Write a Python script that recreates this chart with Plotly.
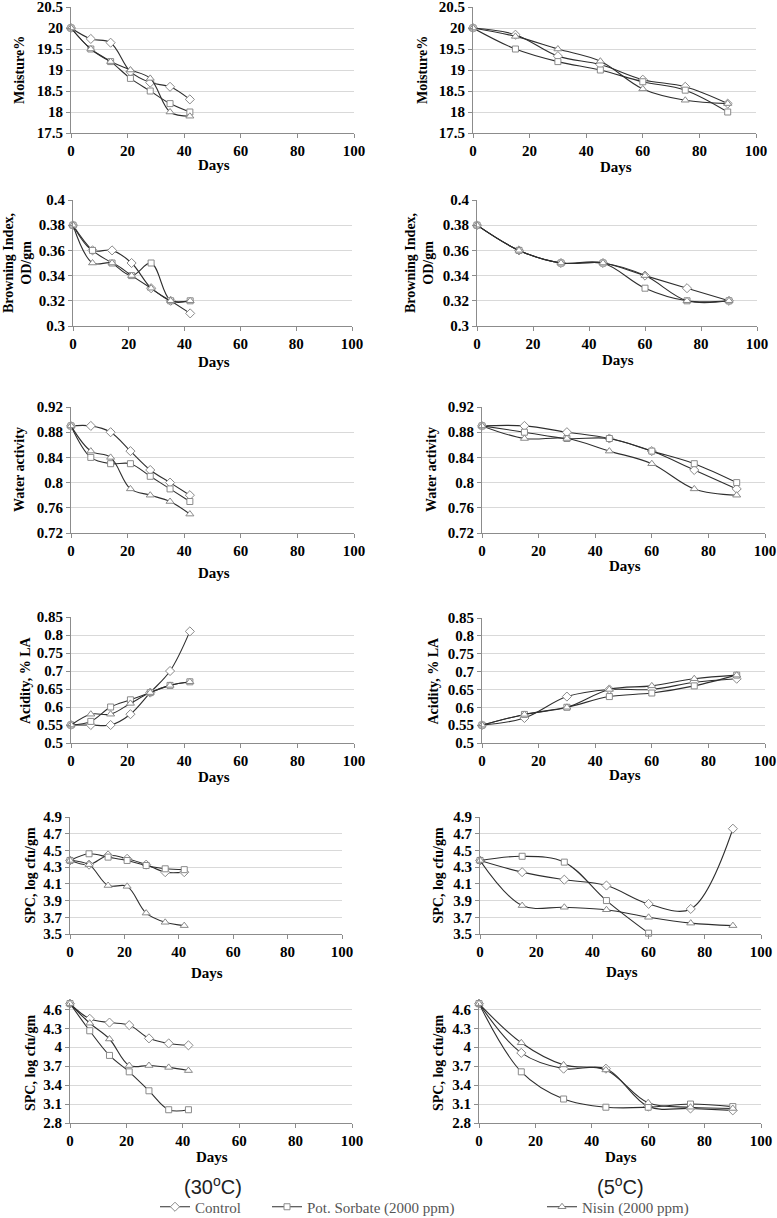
import plotly.graph_objects as go

W, H = 777, 1218

# storage days
days_30 = [0, 7, 14, 21, 28, 35, 42]
days_5 = [0, 15, 30, 45, 60, 75, 90]

series_names = ["Control", "Pot. Sorbate (2000 ppm)", "Nisin (2000 ppm)"]
symbols = ["diamond", "square", "triangle-up"]

# moisture %
moist_30_control = [20.0, 19.74, 19.65, 18.96, 18.7, 18.6, 18.3]
moist_30_sorbate = [20.0, 19.5, 19.2, 18.8, 18.5, 18.2, 18.0]
moist_30_nisin = [20.0, 19.5, 19.2, 19.0, 18.8, 18.0, 17.9]
moist_5_control = [20.0, 19.84, 19.33, 19.13, 18.77, 18.6, 18.2]
moist_5_sorbate = [20.0, 19.5, 19.2, 19.0, 18.72, 18.52, 18.0]
moist_5_nisin = [20.0, 19.8, 19.5, 19.21, 18.55, 18.28, 18.2]

# browning index
brown_30_control = [0.38, 0.36, 0.36, 0.35, 0.33, 0.32, 0.31]
brown_30_sorbate = [0.38, 0.36, 0.35, 0.34, 0.35, 0.32, 0.32]
brown_30_nisin = [0.38, 0.35, 0.35, 0.34, 0.33, 0.32, 0.32]
brown_5_control = [0.38, 0.36, 0.35, 0.35, 0.34, 0.33, 0.32]
brown_5_sorbate = [0.38, 0.36, 0.35, 0.35, 0.33, 0.32, 0.32]
brown_5_nisin = [0.38, 0.36, 0.35, 0.35, 0.34, 0.32, 0.32]

# water activity
aw_30_control = [0.89, 0.89, 0.88, 0.85, 0.82, 0.80, 0.78]
aw_30_sorbate = [0.89, 0.84, 0.83, 0.83, 0.81, 0.79, 0.77]
aw_30_nisin = [0.89, 0.85, 0.84, 0.79, 0.78, 0.77, 0.75]
aw_5_control = [0.89, 0.89, 0.88, 0.87, 0.85, 0.82, 0.79]
aw_5_sorbate = [0.89, 0.88, 0.87, 0.87, 0.85, 0.83, 0.80]
aw_5_nisin = [0.89, 0.87, 0.87, 0.85, 0.83, 0.79, 0.78]

# acidity, % LA
acid_30_control = [0.55, 0.55, 0.55, 0.58, 0.64, 0.70, 0.81]
acid_30_sorbate = [0.55, 0.56, 0.60, 0.62, 0.64, 0.66, 0.67]
acid_30_nisin = [0.55, 0.58, 0.58, 0.61, 0.64, 0.66, 0.67]
acid_5_control = [0.55, 0.57, 0.63, 0.65, 0.65, 0.67, 0.68]
acid_5_sorbate = [0.55, 0.58, 0.60, 0.63, 0.64, 0.66, 0.69]
acid_5_nisin = [0.55, 0.58, 0.60, 0.65, 0.66, 0.68, 0.69]

# SPC, log cfu/gm (first set)
spc_30_control = [4.38, 4.33, 4.44, 4.40, 4.33, 4.24, 4.24]
spc_30_sorbate = [4.38, 4.46, 4.42, 4.38, 4.32, 4.28, 4.27]
spc_30_nisin = [4.38, 4.33, 4.08, 4.07, 3.75, 3.64, 3.60]
spc_5_control = [4.38, 4.24, 4.15, 4.08, 3.86, 3.80, 4.76]
spc_5_sorbate = [4.38, 4.43, 4.36, 3.90, 3.51]
spc_5_nisin = [4.38, 3.84, 3.82, 3.79, 3.70, 3.63, 3.60]

# SPC, log cfu/gm (second set)
spc2_30_control = [4.69, 4.45, 4.39, 4.35, 4.14, 4.06, 4.03]
spc2_30_sorbate = [4.69, 4.26, 3.87, 3.61, 3.31, 3.01, 3.01]
spc2_30_nisin = [4.69, 4.38, 4.13, 3.71, 3.71, 3.68, 3.63]
spc2_5_control = [4.69, 3.91, 3.66, 3.66, 3.06, 3.03, 3.00]
spc2_5_sorbate = [4.69, 3.61, 3.18, 3.05, 3.05, 3.10, 3.06]
spc2_5_nisin = [4.69, 4.07, 3.72, 3.64, 3.12, 3.05, 3.03]

ytitles = ["Moisture%", "Browning Index,<br>OD/gm", "Water activity",
           "Acidity, % LA", "SPC, log cfu/gm", "SPC, log cfu/gm"]
yranges = [[17.5, 20.5], [0.3, 0.4], [0.72, 0.92], [0.5, 0.85], [3.5, 4.9], [2.8, 4.7]]
ytick0 = [17.5, 0.3, 0.72, 0.5, 3.5, 2.8]
ydtick = [0.5, 0.02, 0.04, 0.05, 0.2, 0.3]

panel_data = [
    (days_30, [moist_30_control, moist_30_sorbate, moist_30_nisin]),
    (days_5, [moist_5_control, moist_5_sorbate, moist_5_nisin]),
    (days_30, [brown_30_control, brown_30_sorbate, brown_30_nisin]),
    (days_5, [brown_5_control, brown_5_sorbate, brown_5_nisin]),
    (days_30, [aw_30_control, aw_30_sorbate, aw_30_nisin]),
    (days_5, [aw_5_control, aw_5_sorbate, aw_5_nisin]),
    (days_30, [acid_30_control, acid_30_sorbate, acid_30_nisin]),
    (days_5, [acid_5_control, acid_5_sorbate, acid_5_nisin]),
    (days_30, [spc_30_control, spc_30_sorbate, spc_30_nisin]),
    (days_5, [spc_5_control, spc_5_sorbate, spc_5_nisin]),
    (days_30, [spc2_30_control, spc2_30_sorbate, spc2_30_nisin]),
    (days_5, [spc2_5_control, spc2_5_sorbate, spc2_5_nisin]),
]

# plot boxes in pixels: x0, x1, y0(top), y1(bottom)
boxes = [
    (71, 354, 7, 133), (473, 756, 7, 133),
    (73, 352, 200, 326), (477, 757, 200, 326),
    (71, 354, 407, 533), (482, 765, 407, 533),
    (71, 354, 617, 743), (482, 765, 618, 743),
    (70, 342, 817, 934), (480, 761, 817, 934),
    (70, 352, 1003, 1123), (479, 761, 1003, 1123),
]
ytitle_x = [19, 422, 17, 419, 20, 432, 25, 433, 30, 438, 30, 438]
days_y = [165, 167, 362, 360, 573, 566, 777, 775, 973, 972, 1157, 1157]


def fx(p):
    return p / W


def fy(p):
    return 1 - p / H


serif = "Liberation Serif"
line_col = "#2e2e2e"
mk_col = "#8a8a8a"
axis_col = "#8c8c8c"
grid_col = "#d9d9d9"
legend_ids = ["legend", "legend2", "legend3"]
mk_sizes = [7, 6, 7]

fig = go.Figure()
annotations = []

for i, (days, series) in enumerate(panel_data):
    n = i + 1
    xa = "x" if n == 1 else f"x{n}"
    ya = "y" if n == 1 else f"y{n}"
    row = i // 2
    for k, vals in enumerate(series):
        fig.add_trace(go.Scatter(
            x=days[:len(vals)], y=vals, xaxis=xa, yaxis=ya,
            mode="lines+markers", name=series_names[k],
            line=dict(color=line_col, width=1.1, shape="spline", smoothing=1),
            marker=dict(symbol=symbols[k], size=mk_sizes[k], color="white",
                        line=dict(color=mk_col, width=1)),
            cliponaxis=False,
            showlegend=(i == 0), legend=legend_ids[k],
        ))
    x0, x1, y0, y1 = boxes[i]
    fig.layout[f"xaxis{'' if n == 1 else n}"] = dict(
        domain=[fx(x0), fx(x1)], anchor=ya, range=[0, 100], dtick=20, tick0=0,
        automargin=False, ticklabeloverflow="allow",
        showgrid=False, zeroline=False, showline=True, linecolor=axis_col, linewidth=1,
        ticks="outside", ticklen=4, tickcolor=axis_col,
        tickfont=dict(family=serif, size=15, color="black", weight="bold"),
    )
    fig.layout[f"yaxis{'' if n == 1 else n}"] = dict(
        domain=[fy(y1), fy(y0)], anchor=xa, range=yranges[row], tick0=ytick0[row],
        dtick=ydtick[row], automargin=False, ticklabeloverflow="allow",
        showgrid=True, gridcolor=grid_col, gridwidth=1,
        zeroline=False, showline=True, linecolor=axis_col, linewidth=1,
        ticks="outside", ticklen=4, tickcolor=axis_col,
        tickfont=dict(family=serif, size=15, color="black", weight="bold"),
    )
    annotations.append(dict(
        text=ytitles[row], x=fx(ytitle_x[i]), y=fy((y0 + y1) / 2), xref="paper", yref="paper",
        showarrow=False, textangle=-90, xanchor="center", yanchor="middle",
        font=dict(family=serif, size=14, color="black", weight="bold"),
    ))
    annotations.append(dict(
        text="Days", x=fx((x0 + x1) / 2 + 1), y=fy(days_y[i]), xref="paper", yref="paper",
        showarrow=False, xanchor="center", yanchor="middle",
        font=dict(family=serif, size=15, color="black", weight="bold"),
    ))

annotations.append(dict(
    text="(30<sup>o</sup>C)", x=fx(213), y=fy(1185), xref="paper", yref="paper",
    showarrow=False, xanchor="center", yanchor="middle",
    font=dict(family="Liberation Sans", size=20, color="#222222"),
))
annotations.append(dict(
    text="(5<sup>o</sup>C)", x=fx(620), y=fy(1185), xref="paper", yref="paper",
    showarrow=False, xanchor="center", yanchor="middle",
    font=dict(family="Liberation Sans", size=20, color="#222222"),
))

leg_font = dict(family=serif, size=15, color="#555555")
leg_x = [155, 267, 542]
legends = {}
for k, lid in enumerate(legend_ids):
    legends[lid] = dict(
        x=fx(leg_x[k]), y=fy(1207), xanchor="left", yanchor="middle",
        orientation="h", font=leg_font, bgcolor="rgba(0,0,0,0)",
        itemwidth=30, tracegroupgap=0,
    )

fig.update_layout(
    width=W, height=H, margin=dict(l=0, r=0, t=0, b=0, autoexpand=False),
    paper_bgcolor="white", plot_bgcolor="white",
    annotations=annotations, **legends,
)

fig.write_html("out.html", config={"displayModeBar": False},
               post_script="document.body.style.margin='0px';")
